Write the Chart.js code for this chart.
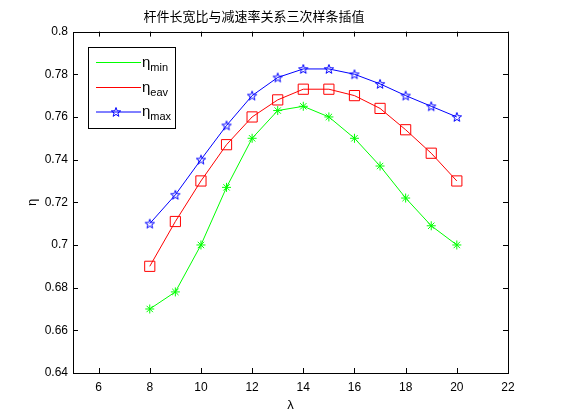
<!DOCTYPE html>
<html><head><meta charset="utf-8">
<script src="https://cdn.jsdelivr.net/npm/chart.js@4/dist/chart.umd.min.js"></script>
<style>html,body{margin:0;padding:0;background:#fff;}#wrap{width:561px;height:420px;}</style>
</head><body><div id="wrap"><canvas id="c" width="561" height="420"></canvas></div>
<script>
const titleText = '杆件长宽比与减速率关系三次样条插值';
const xLabel = 'λ';
const yLabel = 'η';
const lambda = [8, 9, 10, 11, 12, 13, 14, 15, 16, 17, 18, 19, 20];
const etaMin = [0.670, 0.678, 0.700, 0.727, 0.750, 0.763, 0.765, 0.760, 0.750, 0.737, 0.722, 0.709, 0.700];
const etaEav = [0.690, 0.711, 0.730, 0.747, 0.760, 0.768, 0.773, 0.773, 0.770, 0.764, 0.754, 0.743, 0.730];
const etaMax = [0.710, 0.7235, 0.740, 0.756, 0.770, 0.7785, 0.7825, 0.7825, 0.780, 0.7755, 0.770, 0.765, 0.760];
const xTicks = [6, 8, 10, 12, 14, 16, 18, 20, 22];
const yTicks = [0.64, 0.66, 0.68, 0.70, 0.72, 0.74, 0.76, 0.78, 0.80];
const legendNames = [['η', 'min'], ['η', 'eav'], ['η', 'max']];

function pentagram(color) {
  const c = document.createElement('canvas');
  c.width = 12; c.height = 12;
  const g = c.getContext('2d');
  g.strokeStyle = color; g.lineWidth = 1;
  g.beginPath();
  for (let i = 0; i < 10; i++) {
    const r = i % 2 === 0 ? 4.9 : 2.0;
    const a = -Math.PI / 2 + i * Math.PI / 5;
    const px = 6 + r * Math.cos(a), py = 6.4 + r * Math.sin(a);
    if (i === 0) g.moveTo(px, py); else g.lineTo(px, py);
  }
  g.closePath(); g.stroke();
  return c;
}
const starImg = pentagram('#0000ff');

function pts(ys) { return lambda.map((x, i) => ({ x: x, y: ys[i] })); }

const font = "'Liberation Sans', Arial, Helvetica, sans-serif";

const boxTicks = {
  id: 'boxTicks',
  afterDatasetsDraw(chart) {
    const ctx = chart.ctx, a = chart.chartArea;
    const xs = chart.scales.x, ys = chart.scales.y;
    ctx.save();
    ctx.strokeStyle = '#000'; ctx.lineWidth = 1;
    ctx.strokeRect(Math.round(a.left) + 0.5, Math.round(a.top) + 0.5, Math.round(a.right - a.left), Math.round(a.bottom - a.top));
    ctx.beginPath();
    xTicks.forEach(v => {
      const px = Math.round(xs.getPixelForValue(v)) + 0.5;
      ctx.moveTo(px, a.bottom); ctx.lineTo(px, a.bottom - 5);
      ctx.moveTo(px, a.top); ctx.lineTo(px, a.top + 5);
    });
    yTicks.forEach(v => {
      const py = Math.round(ys.getPixelForValue(v)) + 0.5;
      ctx.moveTo(a.left, py); ctx.lineTo(a.left + 5, py);
      ctx.moveTo(a.right, py); ctx.lineTo(a.right - 5, py);
    });
    ctx.stroke();
    // legend
    const lx = 88.5, ly = 47.5, lw = 87, lh = 81;
    ctx.fillStyle = '#fff';
    ctx.fillRect(lx, ly, lw, lh);
    ctx.strokeRect(lx, ly, lw, lh);
    const rows = [62.5, 87.5, 112];
    chart.data.datasets.forEach((ds, i) => {
      const y = rows[i];
      ctx.strokeStyle = ds.borderColor; ctx.lineWidth = 1;
      ctx.beginPath(); ctx.moveTo(96, y); ctx.lineTo(141, y); ctx.stroke();
      if (Chart.helpers && Chart.helpers.drawPoint) {
        ctx.save();
        ctx.strokeStyle = ds.pointBorderColor; ctx.fillStyle = 'rgba(0,0,0,0)'; ctx.lineWidth = 1;
        Chart.helpers.drawPoint(ctx, { pointStyle: ds.pointStyle, rotation: 0, borderWidth: 1 }, 116, Math.floor(y), ds.pointRadius);
        ctx.restore();
      }
      ctx.fillStyle = '#000';
      ctx.textBaseline = 'alphabetic'; ctx.textAlign = 'left';
      ctx.font = '15px ' + font;
      ctx.fillText(legendNames[i][0], 142, y + 4);
      const w = ctx.measureText(legendNames[i][0]).width;
      ctx.font = '11px ' + font;
      ctx.fillText(legendNames[i][1], 142 + w, y + 8);
    });
    ctx.restore();
  }
};

new Chart(document.getElementById('c'), {
  type: 'line',
  data: {
    datasets: [
      { label: 'ηmin', data: pts(etaMin), borderColor: '#00ff00', backgroundColor: '#00ff00', pointBorderColor: '#00ff00', pointStyle: 'star', pointRadius: 4.5, borderWidth: 1, pointBorderWidth: 1, tension: 0 },
      { label: 'ηeav', data: pts(etaEav), borderColor: '#ff0000', backgroundColor: 'rgba(0,0,0,0)', pointBorderColor: '#ff0000', pointBackgroundColor: 'rgba(0,0,0,0)', pointStyle: 'rect', pointRadius: 7.2, borderWidth: 1, pointBorderWidth: 1, tension: 0 },
      { label: 'ηmax', data: pts(etaMax), borderColor: '#0000ff', backgroundColor: '#0000ff', pointBorderColor: '#0000ff', pointStyle: starImg, pointRadius: 5, borderWidth: 1, pointBorderWidth: 1, tension: 0 }
    ]
  },
  options: {
    responsive: false,
    animation: false,
    events: [],
    layout: { padding: { left: 0, right: 53, top: 0, bottom: 0 } },
    plugins: {
      legend: { display: false },
      tooltip: { enabled: false },
      title: { display: true, text: titleText, color: '#000', font: { family: "'Noto Sans CJK SC', sans-serif", size: 13, weight: 'normal' }, padding: { top: 8, bottom: 8 } }
    },
    scales: {
      x: {
        type: 'linear', min: 5, max: 22,
        afterBuildTicks: s => { s.ticks = xTicks.map(v => ({ value: v })); },
        afterFit: s => { s.height = 47; },
        grid: { display: false, drawTicks: false },
        border: { display: false },
        ticks: { color: '#000', font: { family: font, size: 12 }, padding: 7, maxRotation: 0, autoSkip: false },
        title: { display: true, text: xLabel, color: '#000', font: { family: font, size: 13 }, padding: { top: 0, bottom: 7 } }
      },
      y: {
        type: 'linear', min: 0.64, max: 0.80,
        afterBuildTicks: s => { s.ticks = yTicks.map(v => ({ value: v })); },
        afterFit: s => { s.width = 73; },
        grid: { display: false, drawTicks: false },
        border: { display: false },
        ticks: { color: '#000', font: { family: font, size: 12 }, padding: 5, autoSkip: false, callback: v => String(Number(v.toFixed(2))) },
        title: { display: true, text: yLabel, color: '#000', font: { family: font, size: 13 }, padding: { top: 25, bottom: 0 } }
      }
    }
  },
  plugins: [boxTicks]
});
</script></body></html>
